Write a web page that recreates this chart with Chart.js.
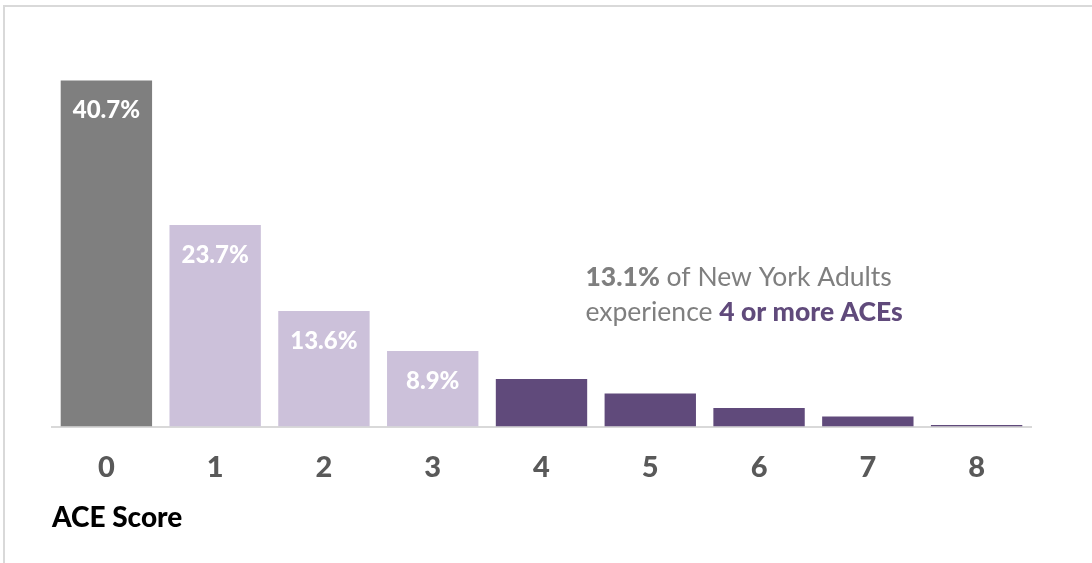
<!DOCTYPE html>
<html>
<head>
<meta charset="utf-8">
<script src="https://cdn.jsdelivr.net/npm/chart.js@4.4.1/dist/chart.umd.min.js"></script>
<style>
  html, body { margin: 0; padding: 0; background: #fff; overflow: hidden; }
  #frame {
    position: absolute; left: 3px; top: 5px;
    width: 1100px; height: 570px;
    border-left: 2px solid #d9d9d9; border-top: 2px solid #d9d9d9;
  }
  #chart { display: block; }
</style>
</head>
<body>
<div id="frame"><canvas id="chart" width="1087" height="556"></canvas></div>
<script>
// ACE score distribution, New York adults
const scores = ['0', '1', '2', '3', '4', '5', '6', '7', '8'];
const pct = [40.7, 23.7, 13.6, 8.9, 5.6, 3.9, 2.2, 1.2, 0.2];
const barColors = ['#7f7f7f', '#ccc1da', '#ccc1da', '#ccc1da', '#604a7b', '#604a7b', '#604a7b', '#604a7b', '#604a7b'];
const labelled = [true, true, true, true, false, false, false, false, false];

const FONT = 'Lato, "Open Sans", sans-serif';

// white value labels just inside the top of the first bars
const valueLabels = {
  id: 'valueLabels',
  afterDatasetsDraw(chart) {
    const ctx = chart.ctx;
    const meta = chart.getDatasetMeta(0);
    ctx.save();
    ctx.fillStyle = '#ffffff';
    ctx.font = '900 24px ' + FONT;
    ctx.textAlign = 'center';
    ctx.textBaseline = 'middle';
    meta.data.forEach((bar, i) => {
      if (!labelled[i]) return;
      ctx.fillText(pct[i].toFixed(1) + '%', bar.x, bar.y + 30);
    });
    ctx.restore();
  }
};

// callout text beside the 4+ bars
const callout = {
  id: 'callout',
  afterDraw(chart) {
    const ctx = chart.ctx;
    const x0 = chart.scales.x.getPixelForValue(4) + 44;
    const y1 = chart.scales.y.getPixelForValue(17.6);
    const y2 = chart.scales.y.getPixelForValue(13.4);
    const parts1 = [['900', '#7f7f7f', '13.1%'], ['normal', '#7f7f7f', ' of New York Adults']];
    const parts2 = [['normal', '#7f7f7f', 'experience '], ['900', '#604a7b', '4 or more ACEs']];
    ctx.save();
    ctx.textBaseline = 'middle';
    ctx.textAlign = 'left';
    [[parts1, y1], [parts2, y2]].forEach(([parts, y]) => {
      let x = x0;
      parts.forEach(([w, c, t]) => {
        ctx.font = w + ' 26.5px ' + FONT;
        ctx.fillStyle = c;
        ctx.fillText(t, x, y);
        x += ctx.measureText(t).width;
      });
    });
    ctx.restore();
  }
};

new Chart(document.getElementById('chart').getContext('2d'), {
  type: 'bar',
  data: {
    labels: scores,
    datasets: [{
      data: pct,
      backgroundColor: barColors,
      borderWidth: 0,
      barPercentage: 0.84,
      categoryPercentage: 1
    }]
  },
  options: {
    responsive: false,
    animation: false,
    layout: {padding: {left: 47, right: 61, top: 37, bottom: 28}},
    plugins: {
      legend: {display: false},
      tooltip: {enabled: false}
    },
    scales: {
      x: {
        grid: {display: false, drawTicks: false},
        border: {display: true, color: '#d9d9d9', width: 2},
        ticks: {
          color: '#595959',
          font: {family: FONT, size: 29, weight: '900'},
          padding: 24
        },
        title: {
          display: true,
          text: 'ACE Score',
          align: 'start',
          color: '#000000',
          font: {family: FONT, size: 28, weight: '900'},
          padding: {top: -8, bottom: 0}
        }
      },
      y: {
        display: false,
        min: 0,
        max: 45
      }
    }
  },
  plugins: [valueLabels, callout]
});
</script>
</body>
</html>
